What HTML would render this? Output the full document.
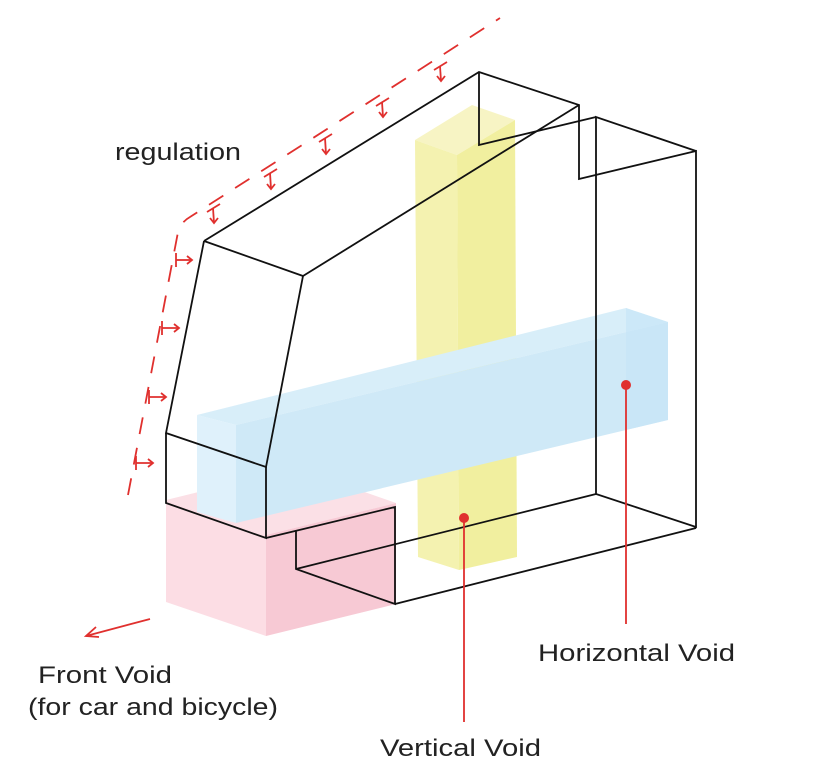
<!DOCTYPE html>
<html><head><meta charset="utf-8"><style>
html,body{margin:0;padding:0;background:#fff;}
svg{display:block;}
text{font-family:"Liberation Sans",sans-serif;fill:#222;font-size:24px;}
</style></head><body>
<svg width="818" height="768" viewBox="0 0 818 768" xmlns="http://www.w3.org/2000/svg">
<!-- pink front void -->
<polygon points="166,500 296,468 396,503 266,535" fill="#fbe0e6"/>
<polygon points="166,500 266,535 266,636 166,602" fill="#fcdde4"/>
<polygon points="266,535 396,503 396,604 266,636" fill="#f7c9d4"/>
<!-- yellow vertical void -->
<polygon points="415,140 472,105 515,120 457,155" fill="#f7f4c4"/>
<polygon points="415,140 457,155 459,570 418,557" fill="#f4f2b0"/>
<polygon points="457,155 515,120 517,557 459,570" fill="#f1ef9f"/>
<!-- blue horizontal void -->
<polygon points="197,415 626,308 668,322 236,425" fill="#d8eef9"/>
<polygon points="197,415 236,425 236,523 197,512" fill="#dff1fb"/>
<polygon points="236,425 668,322 668,420 236,523" fill="#cfe9f7"/>
<polygon points="626,308 668,322 668,420 626,430" fill="#c5e5f6" opacity="0.6"/>
<!-- black outline -->
<g fill="none" stroke="#111" stroke-width="1.8" stroke-linejoin="miter">
<polyline points="204,241 479,72 579,105 579,179 696,151 696,527 596,494 596,117 696,151"/>
<polyline points="479,72 479,145 596,117"/>
<polyline points="579,105 303,276"/>
<polyline points="204,241 303,276 266,467 166,433 204,241"/>
<polyline points="166,433 166,503 266,538 266,467"/>
<polyline points="266,538 395,507 395,604 296,569 296,530"/>
<polyline points="296,569 596,494"/>
<polyline points="395,604 696,528"/>
</g>
<!-- regulation dashed line -->
<g stroke="#e0302e" stroke-width="1.8" fill="none">
<path d="M128,495 L178,232 Q181,222 190,217 L500,18" stroke-dasharray="17,14"/>
<g>
<line x1="176" y1="253" x2="176" y2="267"/><line x1="176" y1="260" x2="192" y2="260"/><polyline points="187,256 192,260 187,264"/>
<line x1="162" y1="321" x2="162" y2="335"/><line x1="162" y1="328" x2="179" y2="328"/><polyline points="174,324 179,328 174,332"/>
<line x1="149" y1="390" x2="149" y2="404"/><line x1="149" y1="397" x2="166" y2="397"/><polyline points="161,393 166,397 161,401"/>
<line x1="136" y1="456" x2="136" y2="470"/><line x1="136" y1="463" x2="153" y2="463"/><polyline points="148,459 153,463 148,467"/>
</g>
<g>
<line x1="207" y1="212" x2="220" y2="204"/><line x1="213" y1="208" x2="214" y2="223"/><polyline points="210,218 214,223 218,218"/>
<line x1="264" y1="177" x2="277" y2="169"/><line x1="270" y1="173" x2="271" y2="189"/><polyline points="267,184 271,189 275,184"/>
<line x1="319" y1="142" x2="332" y2="134"/><line x1="325" y1="138" x2="326" y2="154"/><polyline points="322,149 326,154 330,149"/>
<line x1="376" y1="106" x2="389" y2="98"/><line x1="382" y1="102" x2="383" y2="117"/><polyline points="379,112 383,117 387,112"/>
<line x1="434" y1="70" x2="447" y2="62"/><line x1="440" y1="66" x2="441" y2="81"/><polyline points="437,76 441,81 445,76"/>
</g>
<line x1="464" y1="518" x2="464" y2="722"/>
<line x1="626" y1="385" x2="626" y2="624"/>
<line x1="150" y1="619" x2="86" y2="636"/>
<polyline points="96,627 86,636 99,637"/>
</g>
<circle cx="464" cy="518" r="5" fill="#e0302e"/>
<circle cx="626" cy="385" r="5" fill="#e0302e"/>
<!-- labels -->
<text x="115" y="160" textLength="126" lengthAdjust="spacingAndGlyphs">regulation</text>
<text x="538" y="661" textLength="197" lengthAdjust="spacingAndGlyphs">Horizontal Void</text>
<text x="38" y="683" textLength="134" lengthAdjust="spacingAndGlyphs">Front Void</text>
<text x="28" y="715" textLength="250" lengthAdjust="spacingAndGlyphs">(for car and bicycle)</text>
<text x="380" y="756" textLength="161" lengthAdjust="spacingAndGlyphs">Vertical Void</text>
</svg>
</body></html>
